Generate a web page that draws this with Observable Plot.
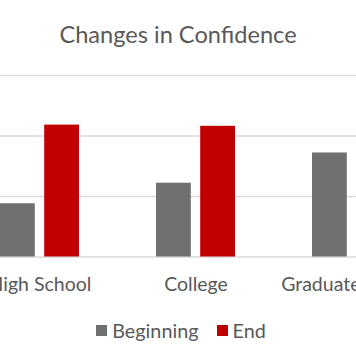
<!DOCTYPE html>
<html><head><meta charset="utf-8">
<script src="https://cdn.jsdelivr.net/npm/d3@7"></script>
<script src="https://cdn.jsdelivr.net/npm/@observablehq/plot@0.6"></script>
<style>
body{margin:0;background:#fff;font-family:Lato,sans-serif;width:356px;height:364px;overflow:hidden;position:relative;color:#595959}
#title{position:absolute;top:20px;left:0;width:356px;text-align:center;font-size:23.6px;line-height:28px}
#chart{position:absolute;top:0;left:0}
#legend{position:absolute;top:319px;left:3px;width:356px;display:flex;justify-content:center;align-items:center;font-size:19.8px;line-height:22px}
#legend .item{display:flex;align-items:center;margin:0 9px}
#legend .sw{width:11px;height:11px;margin-right:5px}
</style></head>
<body>
<div id="title">Changes in Confidence</div>
<div id="chart"></div>
<div id="legend"></div>
<script>
const categories = ["High School", "College", "Graduate School"];
const series = ["Beginning", "End"];
const beginning = [0.88, 1.22, 1.72];
const end = [2.18, 2.16, null];
const colors = ["#6f7170", "#c00000"];
const yTicks = [0, 1, 2, 3];

const rows = [];
categories.forEach((c, i) => {
  rows.push({category: c, series: "Beginning", value: beginning[i]});
  if (end[i] != null) rows.push({category: c, series: "End", value: end[i]});
});

const plot = Plot.plot({
  width: 356,
  height: 300,
  marginTop: 75,
  marginBottom: 43.5,
  marginLeft: 0,
  marginRight: 0,
  style: {fontFamily: "Lato, sans-serif", fontSize: "19.5px", color: "#595959", background: "transparent"},
  x: {domain: categories, range: [-77.4, 467.7], padding: 0.494, label: null, tickSize: 0, tickPadding: 20},
  y: {domain: [0, 3], ticks: yTicks, axis: null},
  color: {domain: series, range: colors},
  marks: [
    Plot.gridY(yTicks, {stroke: "#d9d9d9", strokeOpacity: 1, strokeWidth: 1.3}),
    Plot.barY(rows.filter(d => d.series === "Beginning"), {x: "category", y: "value", fill: "series", insetRight: 44.2}),
    Plot.barY(rows.filter(d => d.series === "End"), {x: "category", y: "value", fill: "series", insetLeft: 44.2}),
    Plot.axisX({tickSize: 0, tickPadding: 20, fontSize: 19.5, fill: "#595959"})
  ]
});
document.getElementById("chart").appendChild(plot);

const legend = document.getElementById("legend");
series.forEach((s, i) => {
  const item = document.createElement("div");
  item.className = "item";
  const sw = document.createElement("div");
  sw.className = "sw";
  sw.style.background = colors[i];
  const t = document.createElement("span");
  t.textContent = s;
  item.appendChild(sw); item.appendChild(t);
  legend.appendChild(item);
});
</script>
</body></html>
